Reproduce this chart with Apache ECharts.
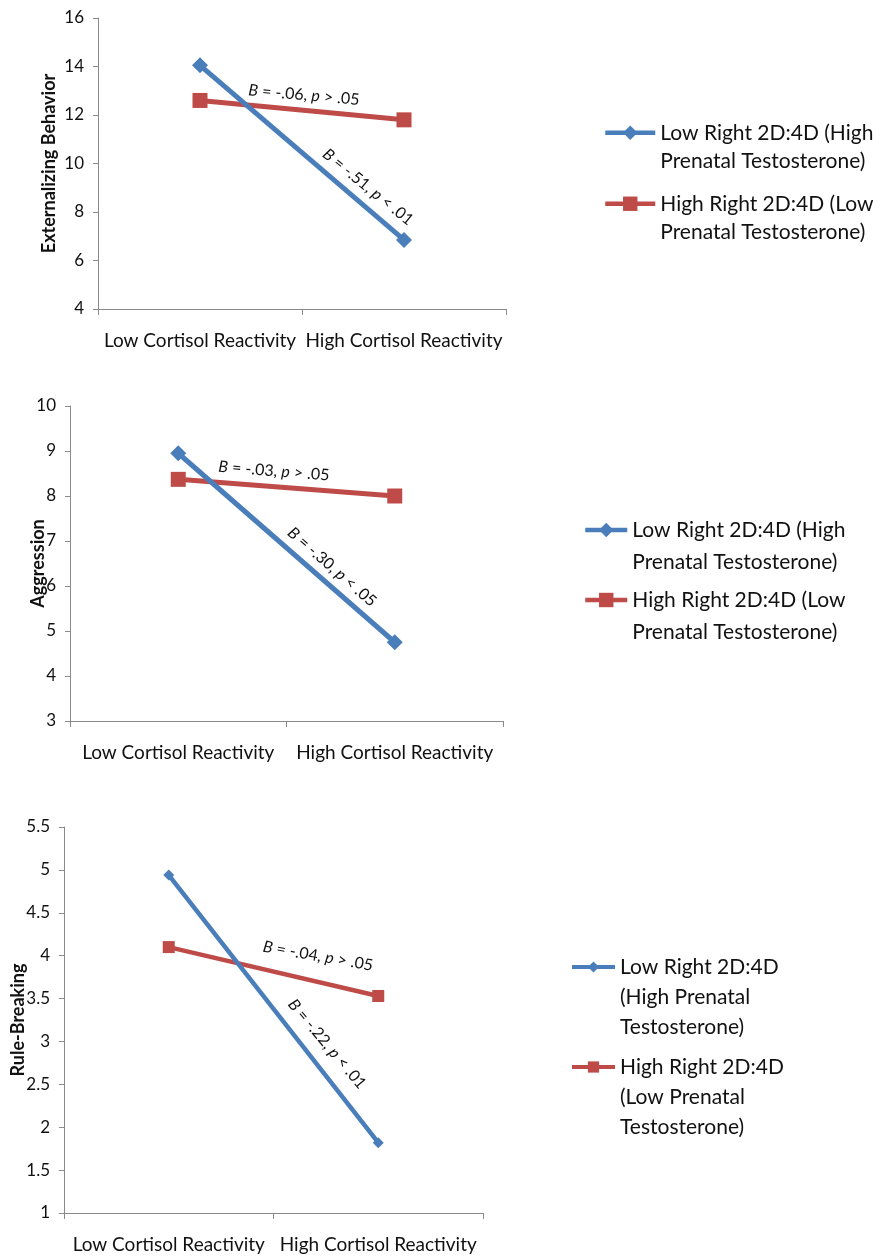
<!DOCTYPE html>
<html>
<head>
<meta charset="utf-8">
<script src="https://cdn.jsdelivr.net/npm/echarts@6/dist/echarts.min.js"></script>
<style>
  html, body { margin: 0; padding: 0; background: #fff; }
  #main { width: 882px; height: 1256px; }
</style>
</head>
<body>
<div id="main"></div>
<script>
// categories on the x axis
var categories = ['Low Cortisol Reactivity', 'High Cortisol Reactivity'];

// panel 1 - externalizing behavior
var extLow = [14.05, 6.85];
var extHigh = [12.6, 11.8];
// panel 2 - aggression
var aggLow = [8.95, 4.75];
var aggHigh = [8.37, 8.0];
// panel 3 - rule-breaking
var rbLow = [4.94, 1.82];
var rbHigh = [4.1, 3.53];

// y axis names and ranges
var yNames = ['Externalizing Behavior', 'Aggression', 'Rule-Breaking'];
var yMin = [4, 3, 1];
var yMax = [16, 10, 5.5];
var yStep = [2, 1, 0.5];

// slope annotations
var notes = [
  ['{i|B} = -.06, {i|p} > .05', '{i|B} = -.51, {i|p} < .01'],
  ['{i|B} = -.03, {i|p} > .05', '{i|B} = -.30, {i|p} < .05'],
  ['{i|B} = -.04, {i|p} > .05', '{i|B} = -.22, {i|p} < .01']
];

// legend texts, already broken into lines as in the figure
var legendText = [
  [['Low Right 2D:4D (High', 'Prenatal Testosterone)'], ['High Right 2D:4D (Low', 'Prenatal Testosterone)']],
  [['Low Right 2D:4D (High', 'Prenatal Testosterone)'], ['High Right 2D:4D (Low', 'Prenatal Testosterone)']],
  [['Low Right 2D:4D', '(High Prenatal', 'Testosterone)'], ['High Right 2D:4D', '(Low Prenatal', 'Testosterone)']]
];

var FONT = 'Lato';
var BLUE = '#4a7ebb';
var RED = '#be4b48';
var AXIS = '#8a8a8a';

var grids = [
  { left: 98, top: 18, right: 376, height: 291 },
  { left: 70, top: 406, right: 379, height: 315 },
  { left: 64, top: 827, right: 399, height: 386 }
];
var nameGaps = [40, 23, 37];
var lineW = [5, 5, 4.5];
var diaSize = [16, 16, 11];
var sqSize = [15, 15, 12];

// legend layout per panel
var legendLeft = [603, 583, 570];
var legendTops = [[90, 161], [482, 552], [892, 992]];
var legendW = [50, 42, 43];
var legendLH = [28.5, 32, 30];

// annotation placement: [cx, cy, degrees clockwise]
var notePos = [
  [[304, 95, 5], [368, 187, 39]],
  [[274, 471, 4.5], [332, 567, 41]],
  [[318, 956, 10], [327, 1044, 50]]
];

var lowData = [extLow, aggLow, rbLow];
var highData = [extHigh, aggHigh, rbHigh];

var xAxes = [], yAxes = [], series = [], legends = [], graphics = [];
var labelLookup = {};

for (var p = 0; p < 3; p++) {
  xAxes.push({
    type: 'category', gridIndex: p, data: categories, boundaryGap: true,
    axisLine: { lineStyle: { color: AXIS, width: 1 } },
    axisTick: { show: true, length: 6, lineStyle: { color: AXIS } },
    axisLabel: { color: '#111', fontFamily: FONT, fontSize: 19, margin: 22, interval: 0 }
  });
  yAxes.push({
    type: 'value', gridIndex: p, min: yMin[p], max: yMax[p], interval: yStep[p],
    name: yNames[p], nameLocation: 'middle', nameRotate: 90, nameGap: nameGaps[p],
    nameMoveOverlap: false,
    nameTextStyle: { color: '#111', fontFamily: FONT, fontWeight: 'bold', fontSize: 18 },
    splitLine: { show: false },
    axisLine: { show: true, lineStyle: { color: AXIS, width: 1 } },
    axisTick: { show: true, length: 5, lineStyle: { color: AXIS } },
    axisLabel: { color: '#111', fontFamily: FONT, fontSize: 17, margin: 14 }
  });

  var lowId = 'p' + p + '-low', highId = 'p' + p + '-high';
  series.push({
    name: lowId, type: 'line', xAxisIndex: p, yAxisIndex: p, data: lowData[p],
    symbol: 'diamond', symbolSize: diaSize[p],
    lineStyle: { color: BLUE, width: lineW[p] }, itemStyle: { color: BLUE },
    z: 3, animation: false
  });
  series.push({
    name: highId, type: 'line', xAxisIndex: p, yAxisIndex: p, data: highData[p],
    symbol: 'rect', symbolSize: sqSize[p],
    lineStyle: { color: RED, width: lineW[p] }, itemStyle: { color: RED },
    z: 2, animation: false
  });

  // leading blank lines keep the icon level with the first text line
  var ids = [lowId, highId];
  for (var k = 0; k < 2; k++) {
    var lines = legendText[p][k];
    var pad = '';
    for (var b = 1; b < lines.length; b++) pad += '\n';
    labelLookup[ids[k]] = pad + lines.join('\n');
    legends.push({
      data: [ids[k]], left: legendLeft[p], top: legendTops[p][k], padding: 0,
      orient: 'vertical', itemWidth: legendW[p], itemHeight: p === 2 ? 14 : 18,
      selectedMode: false,
      lineStyle: { width: p === 2 ? 4 : 4.5 },
      formatter: function (n) { return labelLookup[n]; },
      textStyle: { color: '#111', fontFamily: FONT, fontSize: 21, lineHeight: legendLH[p] }
    });
  }

  for (var a = 0; a < 2; a++) {
    var np = notePos[p][a];
    graphics.push({
      type: 'text', x: np[0], y: np[1], rotation: -np[2] * Math.PI / 180, z: 10,
      style: {
        text: notes[p][a], align: 'center', verticalAlign: 'middle',
        fontFamily: FONT, fontSize: 16, fill: '#111',
        rich: { i: { fontStyle: 'italic', fontFamily: FONT, fontSize: 16, fill: '#111' } }
      }
    });
  }
}

var chart = echarts.init(document.getElementById('main'));
chart.setOption({
  animation: false,
  backgroundColor: '#fff',
  grid: grids,
  xAxis: xAxes,
  yAxis: yAxes,
  legend: legends,
  series: series,
  graphic: graphics
});
</script>
</body>
</html>
